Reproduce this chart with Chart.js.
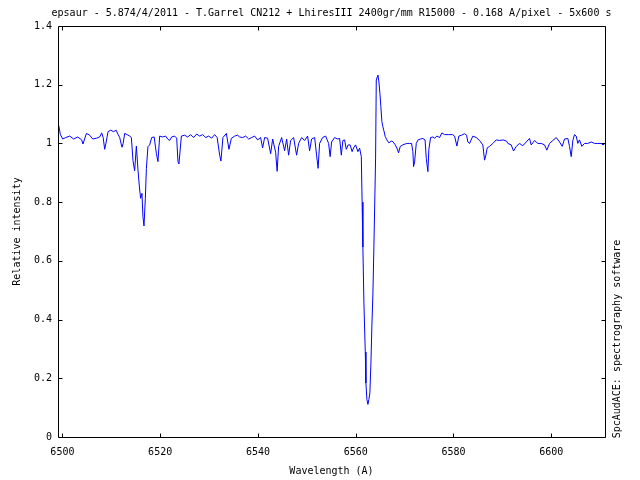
<!DOCTYPE html>
<html><head><meta charset="utf-8">
<script src="https://cdn.jsdelivr.net/npm/chart.js@4/dist/chart.umd.min.js"></script>
<style>html,body{margin:0;padding:0;background:#fff}</style>
</head><body>
<canvas id="c" width="640" height="480"></canvas>
<script>
const titleText = "epsaur - 5.874/4/2011 - T.Garrel CN212 + LhiresIII 2400gr/mm R15000 - 0.168 A/pixel - 5x600 s";
const xTitle = "Wavelength (A)";
const yTitle = "Relative intensity";
const sideText = "SpcAudACE: spectrography software";
const xTicks = [6500, 6520, 6540, 6560, 6580, 6600];
const yTicks = [0, 0.2, 0.4, 0.6, 0.8, 1, 1.2, 1.4];
const yTickLabels = ["0", "0.2", "0.4", "0.6", "0.8", "1", "1.2", "1.4"];

const wavelength = [
6499.24,6499.59,6500.06,6500.67,6501.49,6502.31,6503.13,6503.95,6504.21,6504.91,
6505.58,6506.20,6507.01,6507.63,6508.04,6508.34,6508.65,6508.96,6509.33,6509.88,
6510.49,6511.00,6511.41,6511.72,6512.19,6512.43,6512.74,6513.25,6513.76,6514.11,
6514.44,6514.78,6515.13,6515.46,6515.81,6516.01,6516.28,6516.48,6516.69,6516.97,
6517.18,6517.50,6517.85,6518.26,6518.77,6519.22,6519.55,6519.90,6520.51,6521.12,
6521.53,6521.94,6522.35,6522.97,6523.38,6523.64,6523.84,6524.34,6525.01,6525.63,
6526.24,6526.85,6527.47,6528.08,6528.70,6529.31,6529.92,6530.53,6531.14,6531.66,
6532.17,6532.43,6532.84,6533.54,6534.07,6534.56,6535.24,6535.85,6536.26,
6536.87,6537.49,6538.10,6538.71,6539.33,6539.94,6540.55,6540.96,6541.37,6541.98,
6542.60,6543.01,6543.62,6543.93,6544.23,6544.85,6545.46,6545.87,6546.28,6546.69,
6547.30,6547.91,6548.32,6548.94,6549.55,6550.16,6550.57,6550.98,6551.60,6552.00,
6552.31,6552.62,6553.23,6553.85,6554.46,6554.77,6555.07,6555.69,6556.30,6556.71,
6557.06,6557.38,6557.73,6558.08,6558.45,6558.86,6559.27,6559.57,6559.98,6560.45,
6560.80,6561.15,6561.31,6561.47,6561.68,6561.96,6562.09,6562.29,6562.50,6562.70,
6562.90,6563.11,6563.31,6563.52,6563.72,6563.93,6564.07,6564.21,6564.42,6564.54,
6564.75,6564.95,6565.15,6565.36,6565.56,6565.77,6566.05,6566.38,6566.79,6567.28,
6567.61,6568.10,6568.43,6568.77,6569.12,6569.65,6570.41,6571.02,6571.43,6571.70,
6571.84,6572.05,6572.39,6572.76,6573.27,6573.74,6574.19,6574.44,6574.77,6574.97,
6575.32,6575.79,6576.14,6576.61,6577.16,6577.63,6578.18,
6579.00,6579.82,6580.23,6580.70,6581.10,6581.66,6582.27,6582.68,6582.95,6583.29,
6583.97,6584.66,6585.34,6586.01,6586.36,6586.63,6586.91,6587.38,6588.06,6588.75,
6589.43,6590.14,6590.86,6591.13,6591.82,6592.29,6592.84,6593.52,6594.19,6594.89,
6595.56,6595.91,6596.59,6597.26,6597.96,6598.63,6599.10,6599.65,6600.33,6601.02,
6601.70,6602.25,6602.72,6603.40,6603.74,6604.09,6604.42,6604.76,6605.11,6605.44,
6605.78,6606.26,6606.81,6607.48,6608.18,6608.85,6609.53,6610.22,6610.59,6611.00
];
const intensity = [
1.062,1.030,1.015,1.020,1.025,1.015,1.022,1.012,0.998,1.034,
1.028,1.015,1.018,1.022,1.036,1.020,0.980,1.005,1.040,1.045,
1.040,1.045,1.030,1.020,0.987,1.000,1.034,1.030,1.025,1.020,
0.941,0.907,0.991,0.910,0.841,0.813,0.830,0.750,0.719,0.813,
0.915,0.989,0.995,1.020,1.022,0.966,0.938,1.025,1.022,1.025,
1.015,1.010,1.022,1.025,1.018,0.938,0.930,1.025,1.028,1.022,
1.030,1.020,1.032,1.025,1.030,1.020,1.025,1.018,1.030,1.020,
0.960,0.940,1.020,1.034,0.980,1.017,1.025,1.028,1.022,
1.020,1.025,1.015,1.020,1.025,1.012,1.020,0.985,1.020,1.018,
0.965,1.015,0.970,0.905,0.990,1.020,0.975,1.015,0.960,1.010,
1.020,0.960,1.000,1.020,1.010,1.025,0.975,1.015,1.020,0.960,
0.915,1.000,1.020,1.025,1.000,0.955,1.005,1.020,1.015,1.017,
0.960,1.010,1.012,0.980,0.995,0.995,0.972,0.985,0.995,0.972,
0.984,0.955,0.800,0.647,0.457,0.290,0.184,0.128,0.111,0.128,
0.150,0.249,0.378,0.487,0.647,0.828,0.950,1.216,1.227,1.233,
1.210,1.171,1.125,1.074,1.057,1.043,1.023,1.012,1.002,1.008,
1.006,0.995,0.984,0.968,0.990,0.995,1.000,1.000,1.000,0.972,
0.921,0.937,1.000,1.012,1.015,1.017,1.012,0.949,0.904,0.980,
1.020,1.022,1.018,1.025,1.020,1.036,1.030,
1.030,1.030,1.025,0.991,1.025,1.028,1.033,1.028,1.005,1.000,
1.025,1.020,1.010,0.995,0.943,0.960,0.985,0.990,1.000,1.012,
1.010,1.012,1.008,1.000,0.995,0.974,0.990,1.000,0.992,1.005,
1.017,0.995,1.010,1.000,1.000,0.995,0.977,1.000,1.010,1.020,
1.005,0.990,1.015,1.017,0.990,0.955,1.010,1.030,1.025,1.000,
1.012,0.990,1.000,1.000,1.005,1.000,1.000,1.000,0.995,1.000
];

const points = wavelength.map((w, i) => ({x: w, y: intensity[i]}));
const FONT = {family: "'DejaVu Sans Mono', monospace", size: 10, weight: 'normal'};

const frame = {
  id: 'frame',
  afterDatasetsDraw(chart) {
    const {ctx, chartArea: a, scales: {x, y}} = chart;
    ctx.save();
    ctx.strokeStyle = '#000';
    ctx.lineWidth = 1;
    const L = Math.round(a.left) + 0.5, R = Math.round(a.right) + 0.5;
    const T = Math.round(a.top) + 0.5, B = Math.round(a.bottom) + 0.5;
    ctx.beginPath();
    ctx.rect(L, T, R - L, B - T);
    xTicks.forEach(v => {
      const p = Math.round(x.getPixelForValue(v)) + 0.5;
      ctx.moveTo(p, B); ctx.lineTo(p, B - 4);
      ctx.moveTo(p, T); ctx.lineTo(p, T + 4);
    });
    yTicks.forEach(v => {
      const p = Math.round(y.getPixelForValue(v)) + 0.5;
      ctx.moveTo(L, p); ctx.lineTo(L + 4, p);
      ctx.moveTo(R, p); ctx.lineTo(R - 4, p);
    });
    ctx.stroke();
    ctx.fillStyle = '#000';
    ctx.font = "10px 'DejaVu Sans Mono', monospace";
    ctx.textAlign = 'center';
    ctx.textBaseline = 'middle';
    ctx.fillText(titleText, (a.left + a.right) / 2, 13);
    ctx.translate(617, 339);
    ctx.rotate(-Math.PI / 2);
    ctx.fillText(sideText, 0, 0);
    ctx.restore();
  }
};

new Chart(document.getElementById('c'), {
  type: 'line',
  data: {
    datasets: [{
      data: points,
      borderColor: '#0000ff',
      borderWidth: 1,
      pointRadius: 0,
      tension: 0,
      fill: false
    }]
  },
  options: {
    responsive: false,
    animation: false,
    devicePixelRatio: 1,
    layout: {padding: {top: 26, right: 35, left: 0, bottom: 0}},
    plugins: {legend: {display: false}, tooltip: {enabled: false}, title: {display: false}},
    scales: {
      x: {
        type: 'linear', min: 6499.1, max: 6611,
        afterBuildTicks: s => { s.ticks = xTicks.map(v => ({value: v})); },
        afterFit: s => { s.height = 43; },
        grid: {display: false, drawTicks: false},
        border: {display: false},
        ticks: {font: FONT, color: '#000', padding: 9, maxRotation: 0, autoSkip: false, callback: v => String(v)},
        title: {display: true, text: xTitle, font: FONT, color: '#000', padding: {top: 0, bottom: 3}}
      },
      y: {
        type: 'linear', min: 0, max: 1.4,
        afterBuildTicks: s => { s.ticks = yTicks.map(v => ({value: v})); },
        afterFit: s => { s.width = 58; },
        grid: {display: false, drawTicks: false},
        border: {display: false},
        ticks: {font: FONT, color: '#000', padding: 6, autoSkip: false, callback: v => yTickLabels[yTicks.indexOf(v)]},
        title: {display: true, text: yTitle, font: FONT, color: '#000', padding: {top: 11, bottom: 0}}
      }
    }
  },
  plugins: [frame]
});
</script>
</body></html>
